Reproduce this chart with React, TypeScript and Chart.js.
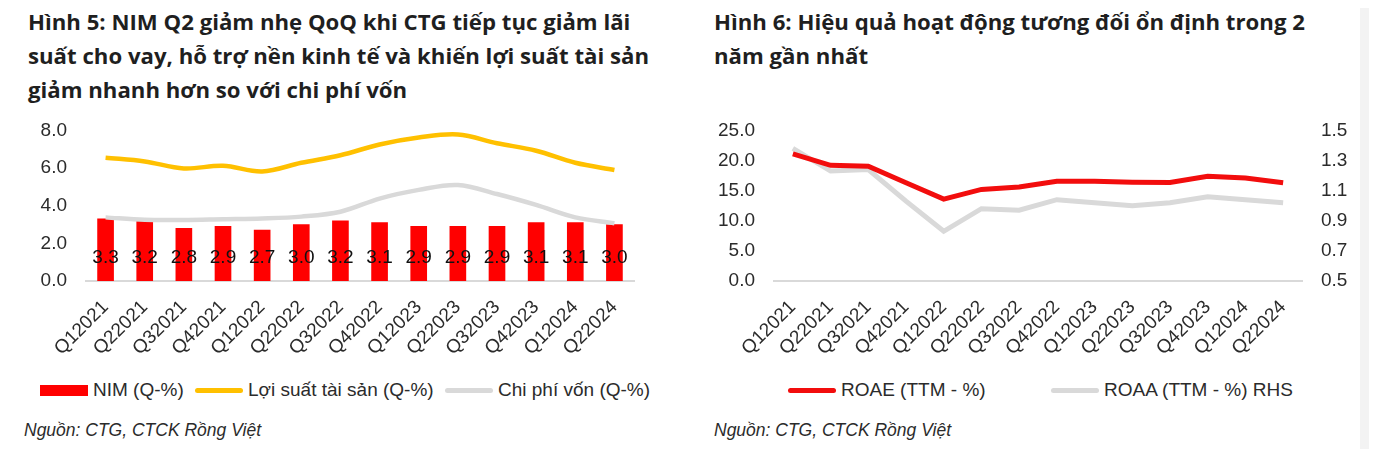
import React, { useEffect, useRef } from 'react';
import Chart from 'chart.js/auto';

const FONT = "'Liberation Sans', Arial, sans-serif";
const NARROW = "'Liberation Sans Narrow', 'Liberation Sans', Arial, sans-serif";
const TEXT = '#2b2b2b';

const quarters = [
  'Q12021', 'Q22021', 'Q32021', 'Q42021', 'Q12022', 'Q22022', 'Q32022',
  'Q42022', 'Q12023', 'Q22023', 'Q32023', 'Q42023', 'Q12024', 'Q22024',
];

// Hình 5
const nim = [3.3, 3.2, 2.8, 2.9, 2.7, 3.0, 3.2, 3.1, 2.9, 2.9, 2.9, 3.1, 3.1, 3.0];
const assetYield = [6.55, 6.35, 5.98, 6.12, 5.82, 6.28, 6.68, 7.25, 7.62, 7.78, 7.32, 6.92, 6.28, 5.9];
const costOfFunds = [3.38, 3.25, 3.24, 3.28, 3.32, 3.42, 3.68, 4.38, 4.84, 5.1, 4.62, 4.04, 3.38, 3.07];
const marginTicks = [0, 2, 4, 6, 8];

// Hình 6
const roae = [21.1, 19.2, 19.05, 16.3, 13.6, 15.2, 15.6, 16.55, 16.55, 16.4, 16.35, 17.4, 17.1, 16.3];
const roaa = [1.38, 1.23, 1.24, 1.03, 0.83, 0.98, 0.97, 1.04, 1.02, 1.0, 1.02, 1.06, 1.04, 1.02];
const roaeTicks = [0, 5, 10, 15, 20, 25];
const roaaTicks = [0.5, 0.7, 0.9, 1.1, 1.3, 1.5];

const noGrid = { display: false, drawTicks: false };

const xAxis = {
  offset: true,
  grid: noGrid,
  border: { display: true, color: '#d9d9d9', width: 2 },
  ticks: { color: TEXT, font: { family: FONT, size: 19 }, minRotation: 45, maxRotation: 45, padding: 15, autoSkip: false },
  afterFit: (s: any) => { s.height = 89; },
};

const yAxis = (ticks: number[], width: number, pos: 'left' | 'right') => ({
  position: pos,
  min: ticks[0],
  max: ticks[ticks.length - 1],
  grid: noGrid,
  border: { display: false },
  ticks: { color: TEXT, font: { family: FONT, size: 19 }, padding: 19, callback: (v: any) => Number(v).toFixed(1) },
  afterBuildTicks: (s: any) => { s.ticks = ticks.map((value) => ({ value })); },
  afterFit: (s: any) => { s.width = width; },
});

// value labels inside the NIM bars
const barLabels = {
  id: 'barLabels',
  afterDatasetsDraw(chart: any) {
    const meta = chart.getDatasetMeta(2);
    const y = chart.scales.y.getPixelForValue(1.22);
    const ctx = chart.ctx;
    ctx.save();
    ctx.font = `19px ${NARROW}`;
    ctx.fillStyle = '#111';
    ctx.textAlign = 'center';
    ctx.textBaseline = 'middle';
    meta.data.forEach((bar: any, i: number) => ctx.fillText(nim[i].toFixed(1), bar.x, y));
    ctx.restore();
  },
};

const MarginChart: React.FC = () => {
  const ref = useRef<HTMLCanvasElement>(null);
  useEffect(() => {
    if (!ref.current) return;
    const chart = new Chart(ref.current, {
      type: 'bar',
      data: {
        labels: quarters,
        datasets: [
          { type: 'line', label: 'Lợi suất tài sản (Q-%)', data: assetYield, borderColor: '#ffc000', borderWidth: 4.5, pointRadius: 0, tension: 0.35, order: 1 },
          { type: 'line', label: 'Chi phí vốn (Q-%)', data: costOfFunds, borderColor: '#d9d9d9', borderWidth: 4.5, pointRadius: 0, tension: 0.35, order: 2 },
          { type: 'bar', label: 'NIM (Q-%)', data: nim, backgroundColor: '#ff0000', barThickness: 16, order: 3 },
        ],
      } as any,
      options: {
        animation: false,
        responsive: false,
        layout: { padding: { top: 11, right: 38, left: 0, bottom: 0 } },
        plugins: { legend: { display: false }, tooltip: { enabled: false } },
        scales: { x: xAxis, y: yAxis(marginTicks, 66, 'left') } as any,
      },
      plugins: [barLabels],
    });
    return () => chart.destroy();
  }, []);
  return <canvas ref={ref} width={652} height={270} />;
};

const ReturnChart: React.FC = () => {
  const ref = useRef<HTMLCanvasElement>(null);
  useEffect(() => {
    if (!ref.current) return;
    const chart = new Chart(ref.current, {
      type: 'line',
      data: {
        labels: quarters,
        datasets: [
          { label: 'ROAE (TTM - %)', data: roae, borderColor: '#f20d0d', borderWidth: 5, pointRadius: 0, tension: 0, yAxisID: 'y', order: 1 },
          { label: 'ROAA (TTM - %) RHS', data: roaa, borderColor: '#d9d9d9', borderWidth: 5, pointRadius: 0, tension: 0, yAxisID: 'y1', order: 2 },
        ],
      },
      options: {
        animation: false,
        responsive: false,
        layout: { padding: { top: 11, right: 0, left: 0, bottom: 0 } },
        plugins: { legend: { display: false }, tooltip: { enabled: false } },
        scales: { x: xAxis, y: yAxis(roaeTicks, 69, 'left'), y1: yAxis(roaaTicks, 58, 'right') } as any,
      },
    });
    return () => chart.destroy();
  }, []);
  return <canvas ref={ref} width={655} height={270} />;
};

type Key = { label: string; color: string; left: number; kind: 'box' | 'line' };

const Legend: React.FC<{ items: Key[] }> = ({ items }) => (
  <>
    {items.map((k) => (
      <div key={k.label} style={{ position: 'absolute', left: k.left, top: 371, display: 'flex', alignItems: 'center', height: 22 }}>
        <span style={{ display: 'inline-block', width: 48, height: k.kind === 'box' ? 11 : 5, borderRadius: k.kind === 'box' ? 0 : 3, background: k.color, marginRight: 5 }} />
        <span style={{ font: `19px ${FONT}`, color: TEXT, whiteSpace: 'nowrap' }}>{k.label}</span>
      </div>
    ))}
  </>
);

const titleStyle: React.CSSProperties = {
  position: 'absolute', top: -3, font: `bold 22.2px 'Open Sans', ${FONT}`, lineHeight: '34px', color: '#1f1f1f', whiteSpace: 'nowrap',
};
const sourceStyle: React.CSSProperties = {
  position: 'absolute', top: 412, font: `italic 17.5px ${FONT}`, color: TEXT, whiteSpace: 'nowrap',
};

export default function App() {
  return (
    <div style={{ position: 'relative', width: 1361, height: 441, fontFamily: FONT }}>
      <div style={{ position: 'absolute', left: 1352, top: -8, width: 17, height: 457, background: '#f3f3f3' }} />

      <div style={{ ...titleStyle, left: 20 }}>
        Hình 5: NIM Q2 giảm nhẹ QoQ khi CTG tiếp tục giảm lãi<br />
        suất cho vay, hỗ trợ nền kinh tế và khiến lợi suất tài sản<br />
        giảm nhanh hơn so với chi phí vốn
      </div>
      <div style={{ position: 'absolute', left: 12, top: 92 }}>
        <MarginChart />
      </div>
      <Legend
        items={[
          { label: 'NIM (Q-%)', color: '#ff0000', left: 32, kind: 'box' },
          { label: 'Lợi suất tài sản (Q-%)', color: '#ffc000', left: 187, kind: 'line' },
          { label: 'Chi phí vốn (Q-%)', color: '#d9d9d9', left: 437, kind: 'line' },
        ]}
      />
      <div style={{ ...sourceStyle, left: 16 }}>Nguồn: CTG, CTCK Rồng Việt</div>

      <div style={{ ...titleStyle, left: 706 }}>
        Hình 6: Hiệu quả hoạt động tương đối ổn định trong 2<br />
        năm gần nhất
      </div>
      <div style={{ position: 'absolute', left: 697, top: 92 }}>
        <ReturnChart />
      </div>
      <Legend
        items={[
          { label: 'ROAE (TTM - %)', color: '#f20d0d', left: 780, kind: 'line' },
          { label: 'ROAA (TTM - %) RHS', color: '#d9d9d9', left: 1043, kind: 'line' },
        ]}
      />
      <div style={{ ...sourceStyle, left: 706 }}>Nguồn: CTG, CTCK Rồng Việt</div>
    </div>
  );
}
